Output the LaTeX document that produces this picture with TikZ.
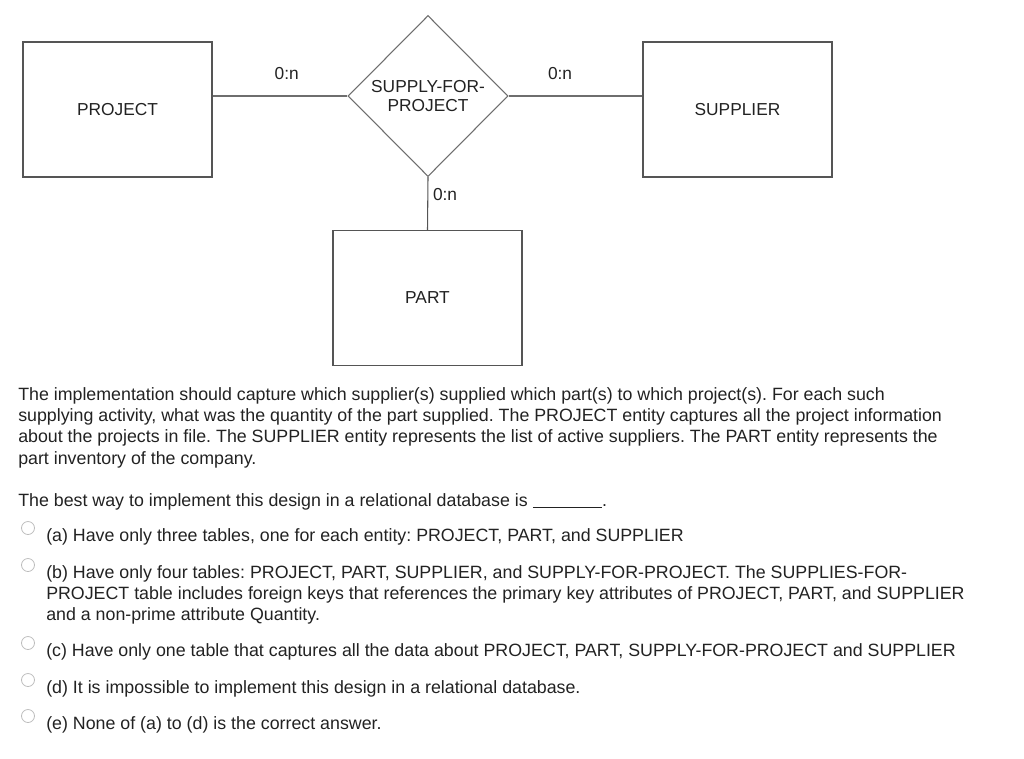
\documentclass[tikz,border=0pt]{standalone}
\usepackage{fontspec}
\setmainfont{Liberation Sans}
\usepackage{tikz}
\usetikzlibrary{shapes.geometric}
\usetikzlibrary{positioning}

\definecolor{boxline}{HTML}{555555}
\definecolor{relline}{HTML}{6E6E6E}
\definecolor{txt}{HTML}{222222}
\definecolor{radioline}{HTML}{BDBDBD}

\begin{document}
\frenchspacing
\begin{tikzpicture}[x=0.75pt,y=-0.75pt,
    entity/.style={draw=boxline, line width=0.9pt, minimum width=141.75pt, minimum height=101.25pt,
        inner sep=0pt, text=txt, font=\fontsize{13}{15}\selectfont},
    relship/.style={draw=relline, line width=0.8pt, diamond, minimum width=120pt, minimum height=120.75pt,
        inner sep=0pt, align=center, text=txt, font=\fontsize{13}{14.25}\selectfont},
    card/.style={inner sep=0pt, text=txt, font=\fontsize{13}{15}\selectfont},
    body/.style={anchor=base west, inner sep=0pt, text=txt, font=\fontsize{13.35}{16}\selectfont},
    radiobtn/.style={circle, draw=radioline, line width=0.6pt, minimum size=9.75pt, inner sep=0pt}]

                \useasboundingbox (0,0) rectangle (1024,758);

                % entities and the relationship
                \node[entity] (project) at (117.5,109.5) {PROJECT};
                \node[entity] (supplier) at (737.5,109.5) {SUPPLIER};
                \node[entity] (part) at (427.5,298) {PART};
                \node[relship] (supply) at (428,96) {SUPPLY-FOR-\\PROJECT};

                % connectors with cardinalities
                \draw[relline, line width=0.8pt] (supply.west) -- node[card, pos=0.45, above=12pt] {0:n} (supply.west -| project.east);
                \draw[relline, line width=0.8pt] (supply.east) -- node[card, pos=0.385, above=12pt] {0:n} (supply.east -| supplier.west);
                \draw[boxline, line width=0.8pt] (supply.south) -- node[card, pos=0.33, right=3.5pt] {0:n} (part.north);

                % description
                \node[body] (descA) at (18,400) {The implementation should capture which supplier(s) supplied which part(s) to which project(s). For each such};
                \node[body] (descB) at (18,421.3) {supplying activity, what was the quantity of the part supplied. The PROJECT entity captures all the project information};
                \node[body] (descC) at (18,442.7) {about the projects in file. The SUPPLIER entity represents the list of active suppliers. The PART entity represents the};
                \node[body] (descD) at (18,464) {part inventory of the company.};

                % question
                \node[body] (quest) at (18,506) {The best way to implement this design in a relational database is \rule[-1pt]{52pt}{0.6pt}.};

                % answers
                \node[radiobtn] (radioA) at (28,528) {};
                \node[body] (optA) at (46,541) {(a) Have only three tables, one for each entity: PROJECT, PART, and SUPPLIER};
                \node[radiobtn] (radioB) at (28,565) {};
                \node[body] (optB) at (46,578) {(b) Have only four tables: PROJECT, PART, SUPPLIER, and SUPPLY-FOR-PROJECT. The SUPPLIES-FOR-};
                \node[body] (optBb) at (46,599) {PROJECT table includes foreign keys that references the primary key attributes of PROJECT, PART, and SUPPLIER};
                \node[body] (optBc) at (46,620) {and a non-prime attribute Quantity.};
                \node[radiobtn] (radioC) at (28,643) {};
                \node[body] (optC) at (46,656) {(c) Have only one table that captures all the data about PROJECT, PART, SUPPLY-FOR-PROJECT and SUPPLIER};
                \node[radiobtn] (radioD) at (28,680) {};
                \node[body] (optD) at (46,693) {(d) It is impossible to implement this design in a relational database.};
                \node[radiobtn] (radioE) at (28,716) {};
                \node[body] (optE) at (46,729) {(e) None of (a) to (d) is the correct answer.};

            \end{tikzpicture}
\end{document}
